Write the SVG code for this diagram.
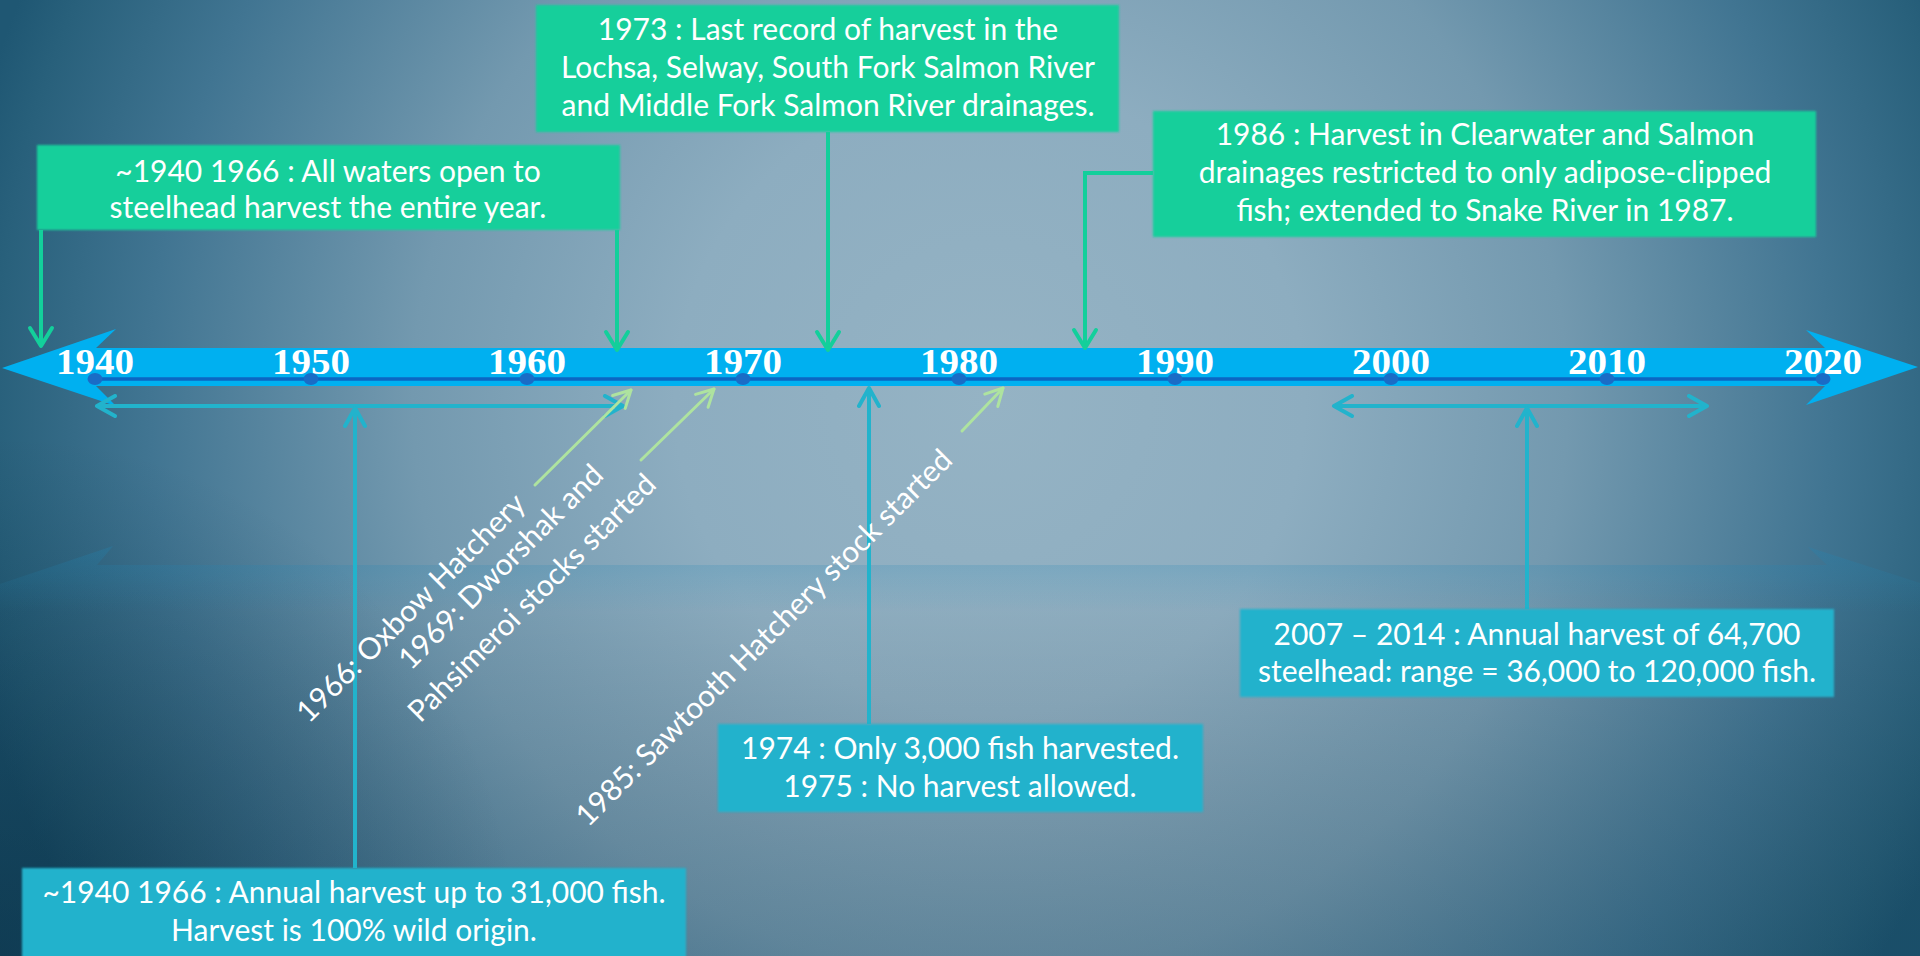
<svg xmlns="http://www.w3.org/2000/svg" width="1920" height="956" viewBox="0 0 1920 956">
<defs>
<radialGradient id="bg" gradientUnits="userSpaceOnUse" cx="0" cy="0" r="1" gradientTransform="translate(990 400) scale(1050 1050)">
<stop offset="0" stop-color="#95b3c4"/>
<stop offset="0.3" stop-color="#8dadc0"/>
<stop offset="0.55" stop-color="#7399af"/>
<stop offset="0.8" stop-color="#417592"/>
<stop offset="0.95" stop-color="#28607b"/>
<stop offset="1" stop-color="#1f5773"/>
</radialGradient>
<linearGradient id="shade" x1="0" y1="0" x2="0" y2="1">
<stop offset="0" stop-color="#000" stop-opacity="0"/>
<stop offset="0.6" stop-color="#000" stop-opacity="0"/>
<stop offset="1" stop-color="#02263a" stop-opacity="0.18"/>
</linearGradient>
<radialGradient id="corner" gradientUnits="userSpaceOnUse" cx="0" cy="956" r="520">
<stop offset="0" stop-color="#03263a" stop-opacity="0.45"/>
<stop offset="1" stop-color="#03263a" stop-opacity="0"/>
</radialGradient>
<linearGradient id="refl" gradientUnits="userSpaceOnUse" x1="0" y1="546" x2="0" y2="612">
<stop offset="0" stop-color="#1f86b5" stop-opacity="0.28"/>
<stop offset="0.35" stop-color="#1f86b5" stop-opacity="0.18"/>
<stop offset="1" stop-color="#1f86b5" stop-opacity="0"/>
</linearGradient>
<filter id="soft" x="-5%" y="-10%" width="110%" height="120%"><feGaussianBlur stdDeviation="1.3"/></filter>
<marker id="mG" viewBox="0 0 24 28" refX="21" refY="14" markerWidth="24" markerHeight="28" markerUnits="userSpaceOnUse" orient="auto-start-reverse">
<path d="M3,3 L21,14 L3,25" fill="none" stroke="#13cf9b" stroke-width="4" stroke-linecap="round" stroke-linejoin="round"/>
</marker>
<marker id="mT" viewBox="0 0 24 24" refX="21" refY="12" markerWidth="24" markerHeight="24" markerUnits="userSpaceOnUse" orient="auto-start-reverse">
<path d="M3,2 L21,12 L3,22" fill="none" stroke="#22b3cc" stroke-width="4" stroke-linecap="round" stroke-linejoin="round"/>
</marker>
<marker id="mL" viewBox="0 0 24 24" refX="21" refY="12" markerWidth="24" markerHeight="24" markerUnits="userSpaceOnUse" orient="auto">
<path d="M4,3 L21,12 L4,21" fill="none" stroke="#aee39f" stroke-width="3" stroke-linecap="round" stroke-linejoin="round"/>
</marker>
<style>
.gbox{fill:#13cf9b}
.tbox{fill:#22b2cc}
.bt{font-family:Lato,"Open Sans","Liberation Sans",sans-serif;font-size:30px;fill:#ffffff;text-anchor:middle}
.rt{font-family:Lato,"Open Sans","Liberation Sans",sans-serif;font-size:30px;fill:#ffffff;text-anchor:middle}
.yr{font-family:"Liberation Serif",serif;font-weight:bold;font-size:36px;fill:#ffffff;text-anchor:middle}
.dot{fill:#1a6cc6}
.cg{fill:none;stroke:#13cf9b;stroke-width:4}
.ct{fill:none;stroke:#22b3cc;stroke-width:4}
.cl{fill:none;stroke:#aee39f;stroke-width:3;stroke-linecap:round}
</style>
</defs>

<rect x="0" y="0" width="1920" height="956" fill="url(#bg)"/>
<rect x="0" y="0" width="1920" height="956" fill="url(#shade)"/>
<rect x="0" y="0" width="1920" height="956" fill="url(#corner)"/>
<polygon id="reflection" points="0,584 113,546 97,565 1827,565 1808,547 1920,583 1920,612 0,612" fill="url(#refl)"/>

<g id="timeline">
<polygon points="2,368 116,329 96,348 1825,348 1806,330 1918,367 1806,405 1825,386 96,386 116,406" fill="#00b0f0"/>
<line x1="96" y1="379" x2="1825" y2="379" stroke="#0b66c3" stroke-width="3.5"/>
<text class="yr" x="95" y="374" textLength="78" lengthAdjust="spacingAndGlyphs">1940</text>
<text class="yr" x="311" y="374" textLength="78" lengthAdjust="spacingAndGlyphs">1950</text>
<text class="yr" x="527" y="374" textLength="78" lengthAdjust="spacingAndGlyphs">1960</text>
<text class="yr" x="743" y="374" textLength="78" lengthAdjust="spacingAndGlyphs">1970</text>
<text class="yr" x="959" y="374" textLength="78" lengthAdjust="spacingAndGlyphs">1980</text>
<text class="yr" x="1175" y="374" textLength="78" lengthAdjust="spacingAndGlyphs">1990</text>
<text class="yr" x="1391" y="374" textLength="78" lengthAdjust="spacingAndGlyphs">2000</text>
<text class="yr" x="1607" y="374" textLength="78" lengthAdjust="spacingAndGlyphs">2010</text>
<text class="yr" x="1823" y="374" textLength="78" lengthAdjust="spacingAndGlyphs">2020</text>
<ellipse class="dot" cx="95" cy="379" rx="7.5" ry="6"/>
<ellipse class="dot" cx="311" cy="379" rx="7.5" ry="6"/>
<ellipse class="dot" cx="527" cy="379" rx="7.5" ry="6"/>
<ellipse class="dot" cx="743" cy="379" rx="7.5" ry="6"/>
<ellipse class="dot" cx="959" cy="379" rx="7.5" ry="6"/>
<ellipse class="dot" cx="1175" cy="379" rx="7.5" ry="6"/>
<ellipse class="dot" cx="1391" cy="379" rx="7.5" ry="6"/>
<ellipse class="dot" cx="1607" cy="379" rx="7.5" ry="6"/>
<ellipse class="dot" cx="1823" cy="379" rx="7.5" ry="6"/>
</g>

<g id="connectors">
<path class="cg" d="M41,230 V346" marker-end="url(#mG)"/>
<path class="cg" d="M617,230 V350" marker-end="url(#mG)"/>
<path class="cg" d="M828,132 V350" marker-end="url(#mG)"/>
<path class="cg" d="M1153,173 H1085 V348" marker-end="url(#mG)"/>
<path class="ct" d="M97,406 H623" marker-start="url(#mT)" marker-end="url(#mT)"/>
<path class="ct" d="M355,868 V408" marker-end="url(#mT)"/>
<path class="ct" d="M869,724 V388" marker-end="url(#mT)"/>
<path class="ct" d="M1334,406 H1707" marker-start="url(#mT)" marker-end="url(#mT)"/>
<path class="ct" d="M1527,609 V408" marker-end="url(#mT)"/>
<path class="cl" d="M535,485 L631,390" marker-end="url(#mL)"/>
<path class="cl" d="M641,460 L714,389" marker-end="url(#mL)"/>
<path class="cl" d="M962,431 L1003,388" marker-end="url(#mL)"/>
</g>

<g id="n1940-open">
<rect class="gbox" x="37" y="145" width="583" height="85" filter="url(#soft)"/>
<text class="bt" x="328" y="182">~1940 1966 : All waters open to</text>
<text class="bt" x="328" y="218">steelhead harvest the entire year.</text>
</g>

<g id="n1973">
<rect class="gbox" x="536" y="5" width="583" height="127" filter="url(#soft)"/>
<text class="bt" x="828" y="40">1973 : Last record of harvest in the</text>
<text class="bt" x="828" y="78">Lochsa, Selway, South Fork Salmon River</text>
<text class="bt" x="828" y="116">and Middle Fork Salmon River drainages.</text>
</g>

<g id="n1986">
<rect class="gbox" x="1153" y="111" width="663" height="126" filter="url(#soft)"/>
<text class="bt" x="1485" y="145">1986 : Harvest in Clearwater and Salmon</text>
<text class="bt" x="1485" y="183">drainages restricted to only adipose-clipped</text>
<text class="bt" x="1485" y="221">fish; extended to Snake River in 1987.</text>
</g>

<g id="n1940-harvest">
<rect class="tbox" x="22" y="868" width="664" height="92" filter="url(#soft)"/>
<text class="bt" x="354" y="903">~1940 1966 : Annual harvest up to 31,000 fish.</text>
<text class="bt" x="354" y="941">Harvest is 100% wild origin.</text>
</g>

<g id="n1974">
<rect class="tbox" x="718" y="724" width="485" height="88" filter="url(#soft)"/>
<text class="bt" x="960" y="759">1974 : Only 3,000 fish harvested.</text>
<text class="bt" x="960" y="797">1975 : No harvest allowed.</text>
</g>

<g id="n2007">
<rect class="tbox" x="1240" y="609" width="594" height="88" filter="url(#soft)"/>
<text class="bt" x="1537" y="645">2007 – 2014 : Annual harvest of 64,700</text>
<text class="bt" x="1537" y="682">steelhead: range = 36,000 to 120,000 fish.</text>
</g>

<g id="n1966">
<text class="rt" x="418" y="615" transform="rotate(-45 418 615)">1966: Oxbow Hatchery</text>
</g>

<g id="n1969">
<text class="rt" transform="rotate(-45 508 574)"><tspan x="508" y="574">1969: Dworshak and</tspan><tspan x="508" y="618">Pahsimeroi stocks started</tspan></text>
</g>

<g id="n1985">
<text class="rt" x="771" y="645" transform="rotate(-45 771 645)">1985: Sawtooth Hatchery stock started</text>
</g>
</svg>
